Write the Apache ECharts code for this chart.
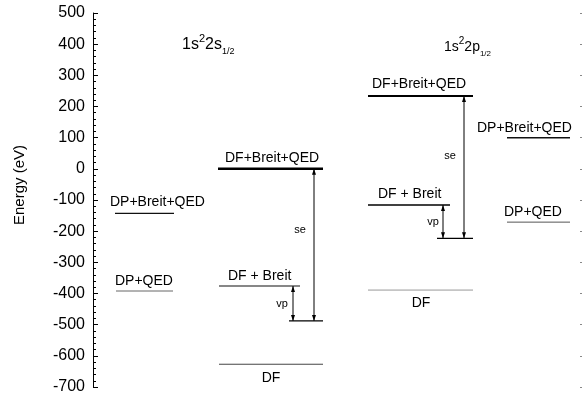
<!DOCTYPE html>
<html><head><meta charset="utf-8">
<script src="https://cdn.jsdelivr.net/npm/echarts@6/dist/echarts.min.js"></script>
<style>html,body{margin:0;padding:0;background:#fff}#c{width:584px;height:403px}</style>
</head><body><div id="c"></div>
<script>
// ---- data ----
const energyTicks = [500,400,300,200,100,0,-100,-200,-300,-400,-500,-600,-700];
const axisTitle = 'Energy (eV)';
const stateTitles = [['1s','2','2s','1/2'], ['1s','2','2p','1/2']];
const dp2sLabels = ['DP+Breit+QED','DP+QED'];
const dp2sEnergy = [-143,-392];
const df2sLabels = ['DF+Breit+QED','DF + Breit','DF'];
const df2sEnergy = [0,-376,-627];
const df2sVpEnergy = -488;
const df2pLabels = ['DF+Breit+QED','DF + Breit','DF'];
const df2pEnergy = [234,-116,-389];
const df2pVpEnergy = -223;
const dp2pLabels = ['DP+Breit+QED','DP+QED'];
const dp2pEnergy = [100,-171];
const arrowLabels = ['vp','se'];

// ---- layout / style (canvas x coordinates on hidden x axis) ----
const FONT = '"Liberation Sans", Arial, sans-serif';
const levelLayout = {
  dp2s: [{x1:115,x2:174,w:1.2,c:'#111',lx:110,la:'left',ly:-11},{x1:116,x2:173,w:1,c:'#666',lx:115,la:'left',ly:-10}],
  df2s: [{x1:218,x2:323,w:2.5,c:'#000',lx:225,la:'left',ly:-11},{x1:219,x2:300,w:1.2,c:'#111',lx:228,la:'left',ly:-10},{x1:219,x2:323,w:1,c:'#444',lx:271,la:'center',ly:14}],
  df2p: [{x1:368,x2:473,w:2,c:'#000',lx:372,la:'left',ly:-12},{x1:368,x2:450,w:1.5,c:'#000',lx:378,la:'left',ly:-11},{x1:368,x2:473,w:1,c:'#999',lx:421,la:'center',ly:13}],
  dp2p: [{x1:507,x2:570,w:1.5,c:'#111',lx:477,la:'left',ly:-10},{x1:507,x2:570,w:1,c:'#555',lx:504,la:'left',ly:-10}]
};
const vpLayout = [{x1:289,x2:323},{x1:437,x2:473}];
const arrowLayout = [{x:293,lx:-11,frac:0.5},{x:314,lx:-14,frac:0.6},{x:443,lx:-10,frac:0.5},{x:464,lx:-14,frac:0.58}];

function levelSeries(labels, energy, lay){
  return {
    type:'custom', coordinateSystem:'cartesian2d', silent:true,
    encode:{x:0,y:1},
    data: energy.map((e,i)=>({value:[lay[i].x1, e], name:labels[i]})),
    renderItem:function(params, api){
      const L = lay[params.dataIndex];
      const e = api.value(1);
      const p1 = api.coord([L.x1, e]), p2 = api.coord([L.x2, e]);
      const lp = api.coord([L.lx, e]);
      return {type:'group', children:[
        {type:'line', shape:{x1:p1[0],y1:p1[1],x2:p2[0],y2:p2[1]}, style:{stroke:L.c, lineWidth:L.w}},
        {type:'text', x:lp[0], y:lp[1]+L.ly, style:{text:labels[params.dataIndex], fill:'#000', font:'14px '+FONT, align:L.la, verticalAlign:'middle'}}
      ]};
    }
  };
}

const vpData = [df2sVpEnergy, df2pVpEnergy];
const arrowData = [
  [df2sEnergy[1], df2sVpEnergy, 0],
  [df2sEnergy[0], df2sVpEnergy, 1],
  [df2pEnergy[1], df2pVpEnergy, 0],
  [df2pEnergy[0], df2pVpEnergy, 1]
];

const option = {
  animation:false,
  grid:{left:93,right:2,top:13,bottom:16,containLabel:false},
  xAxis:{type:'value',min:93,max:582,show:false},
  yAxis:[
    {type:'value',min:energyTicks[energyTicks.length-1],max:energyTicks[0],interval:100,
     axisLine:{show:true,lineStyle:{color:'#000',width:1}},
     axisTick:{show:true,inside:true,length:5,lineStyle:{color:'#000',width:1}},
     minorTick:{show:true,splitNumber:5,length:3,lineStyle:{color:'#000',width:1}},
     axisLabel:{fontSize:16,color:'#000',margin:8,fontFamily:FONT},
     splitLine:{show:false}},
    {type:'value',position:'right',min:energyTicks[energyTicks.length-1],max:energyTicks[0],interval:100,
     axisLine:{show:false},axisTick:{show:true,inside:true,length:2,lineStyle:{color:'#888'}},
     axisLabel:{show:false},splitLine:{show:false}}
  ],
  graphic:[
    {type:'text',x:20,y:185,rotation:Math.PI/2,style:{text:axisTitle,font:'15px '+FONT,fill:'#000',align:'center',verticalAlign:'middle'}},
    {type:'text',x:182,y:45,style:{text:'{b|'+stateTitles[0][0]+'}{sup|'+stateTitles[0][1]+'}{b|'+stateTitles[0][2]+'}{sub|'+stateTitles[0][3]+'}',
      verticalAlign:'middle',rich:{b:{font:'16px '+FONT,fill:'#000',lineHeight:23,verticalAlign:'middle'},sup:{font:'11px '+FONT,fill:'#000',lineHeight:23,verticalAlign:'top'},sub:{font:'9px '+FONT,fill:'#000',lineHeight:23,verticalAlign:'bottom'}}}},
    {type:'text',x:444,y:47,style:{text:'{b|'+stateTitles[1][0]+'}{sup|'+stateTitles[1][1]+'}{b|'+stateTitles[1][2]+'}{sub|'+stateTitles[1][3]+'}',
      verticalAlign:'middle',rich:{b:{font:'14px '+FONT,fill:'#000',lineHeight:22,verticalAlign:'middle'},sup:{font:'10px '+FONT,fill:'#000',lineHeight:22,verticalAlign:'top'},sub:{font:'8px '+FONT,fill:'#000',lineHeight:22,verticalAlign:'bottom'}}}}
  ],
  series:[
    levelSeries(dp2sLabels, dp2sEnergy, levelLayout.dp2s),
    levelSeries(df2sLabels, df2sEnergy, levelLayout.df2s),
    levelSeries(df2pLabels, df2pEnergy, levelLayout.df2p),
    levelSeries(dp2pLabels, dp2pEnergy, levelLayout.dp2p),
    {type:'custom',coordinateSystem:'cartesian2d',silent:true,encode:{x:0,y:1},
     data:vpData.map((e,i)=>[vpLayout[i].x1,e]),
     renderItem:function(params,api){
       const L=vpLayout[params.dataIndex]; const e=api.value(1);
       const p1=api.coord([L.x1,e]), p2=api.coord([L.x2,e]);
       return {type:'line',shape:{x1:p1[0],y1:p1[1],x2:p2[0],y2:p2[1]},style:{stroke:'#000',lineWidth:1.2}};
     }},
    {type:'custom',coordinateSystem:'cartesian2d',silent:true,encode:{x:0,y:[1,2]},
     data:arrowData.map((d,i)=>[arrowLayout[i].x,d[0],d[1],d[2]]),
     renderItem:function(params,api){
       const L=arrowLayout[params.dataIndex];
       const a=api.coord([L.x,api.value(1)]), b=api.coord([L.x,api.value(2)]);
       const top=Math.min(a[1],b[1]), bot=Math.max(a[1],b[1]), x=a[0];
       const lblY = bot - (bot-top)*L.frac;
       const hw=2, hh=6;
       return {type:'group',children:[
         {type:'line',shape:{x1:x,y1:top,x2:x,y2:bot},style:{stroke:'#000',lineWidth:1}},
         {type:'polygon',shape:{points:[[x,top],[x-hw,top+hh],[x+hw,top+hh]]},style:{fill:'#000'}},
         {type:'polygon',shape:{points:[[x,bot],[x-hw,bot-hh],[x+hw,bot-hh]]},style:{fill:'#000'}},
         {type:'text',x:x+L.lx,y:lblY,style:{text:arrowLabels[api.value(3)],font:'11px '+FONT,fill:'#000',align:'center',verticalAlign:'middle'}}
       ]};
     }}
  ]
};
const chart = echarts.init(document.getElementById('c'),null,{renderer:'canvas'});
chart.setOption(option);
</script></body></html>
